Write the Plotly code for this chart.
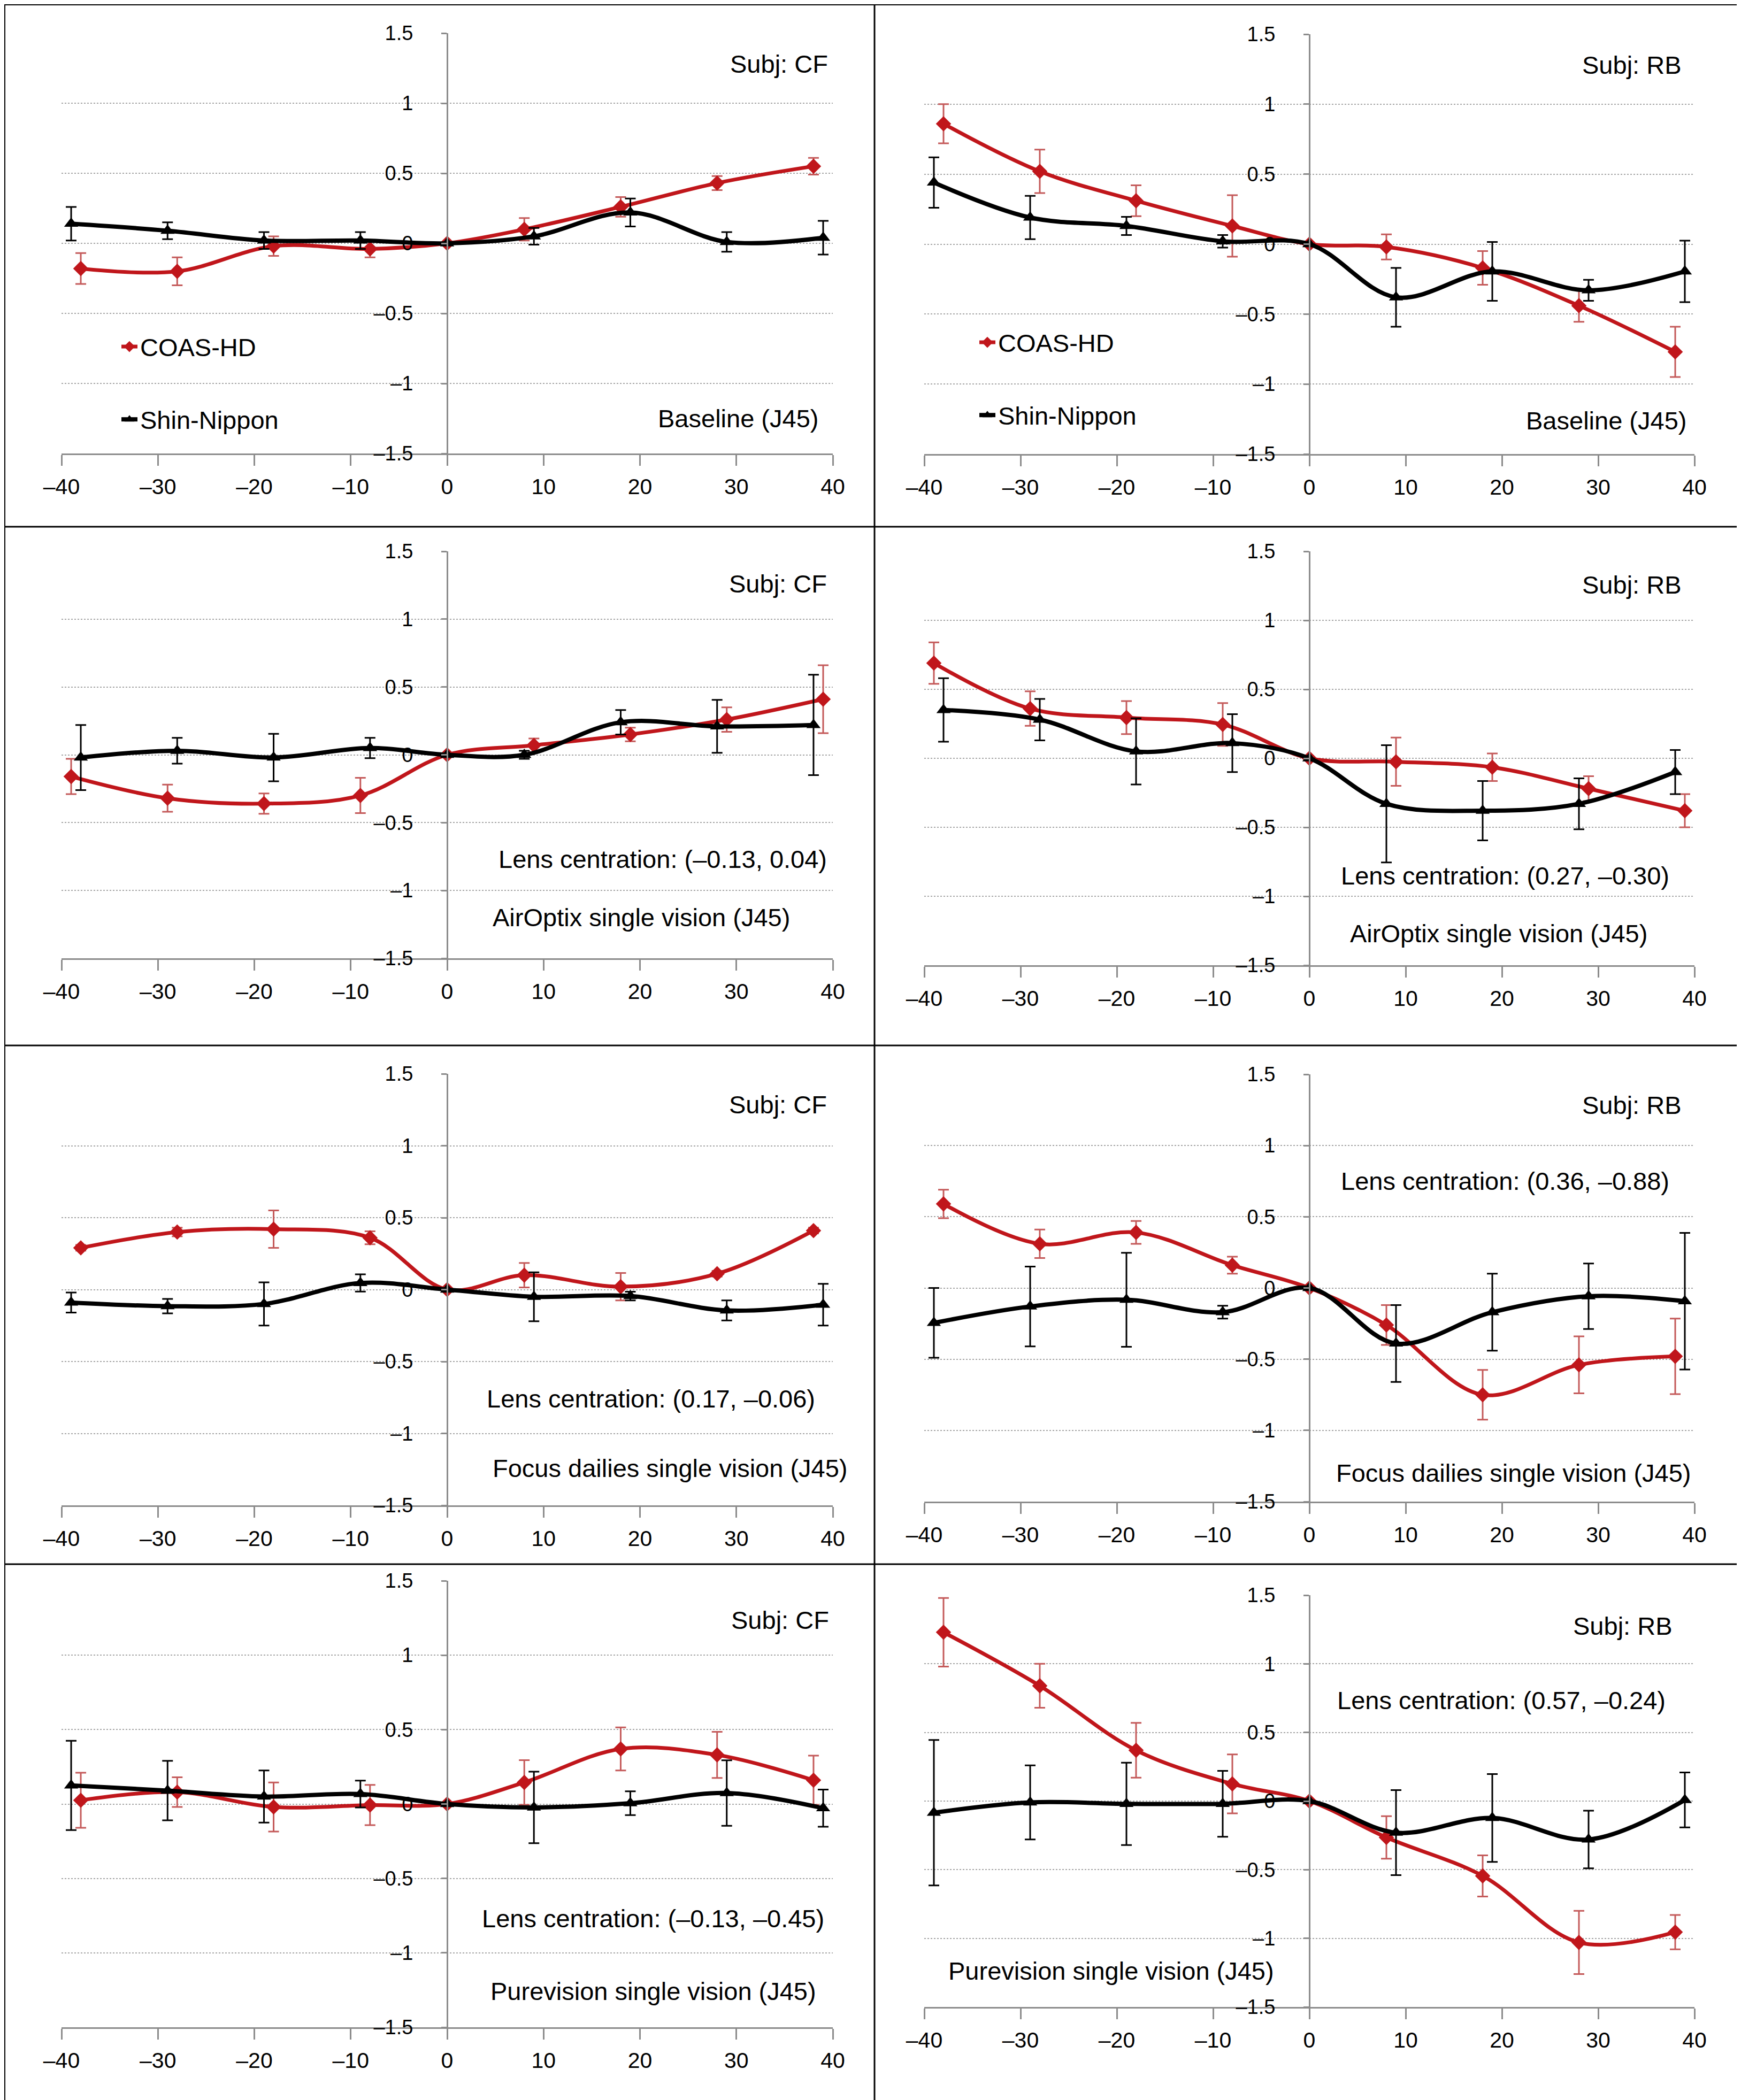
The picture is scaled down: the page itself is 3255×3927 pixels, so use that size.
import plotly.graph_objects as go

W, H = 3255, 3927

# ---------------- data ----------------
X_A = [-38, -28, -18, -8, 0, 8, 18, 28, 38]
X_B = [-39, -29, -19, -9, 0, 9, 19, 29, 39]

x_tick_vals = [-40, -30, -20, -10, 0, 10, 20, 30, 40]
x_tick_text = ["\u201340", "\u201330", "\u201320", "\u201310", "0", "10", "20", "30", "40"]
y_tick_vals = [-1.5, -1, -0.5, 0, 0.5, 1, 1.5]
y_tick_text = ["\u20131.5", "\u20131", "\u20130.5", "0", "0.5", "1", "1.5"]

series_names = ["COAS-HD", "Shin-Nippon"]

# Panel 1: Subj CF, Baseline
cf_base_coas = [-0.18, -0.20, -0.02, -0.04, 0, 0.10, 0.26, 0.43, 0.55]
cf_base_coas_err = [0.11, 0.10, 0.07, 0.06, 0, 0.08, 0.07, 0.05, 0.06]
cf_base_shin = [0.14, 0.09, 0.02, 0.02, 0, 0.05, 0.22, 0.01, 0.04]
cf_base_shin_err = [0.12, 0.06, 0.06, 0.06, 0, 0.06, 0.10, 0.07, 0.12]

# Panel 2: Subj RB, Baseline
rb_base_coas = [0.86, 0.52, 0.31, 0.13, 0, -0.02, -0.17, -0.44, -0.77]
rb_base_coas_err = [0.14, 0.155, 0.11, 0.22, 0, 0.09, 0.12, 0.115, 0.18]
rb_base_shin = [0.44, 0.19, 0.13, 0.02, 0, -0.38, -0.195, -0.33, -0.195]
rb_base_shin_err = [0.18, 0.155, 0.065, 0.045, 0, 0.21, 0.21, 0.075, 0.22]

# Panel 3: Subj CF, AirOptix
cf_air_coas = [-0.16, -0.32, -0.36, -0.30, 0, 0.07, 0.15, 0.26, 0.41]
cf_air_coas_err = [0.13, 0.10, 0.075, 0.13, 0, 0.05, 0.05, 0.09, 0.25]
cf_air_shin = [-0.02, 0.03, -0.02, 0.05, 0, 0.0, 0.24, 0.21, 0.22]
cf_air_shin_err = [0.24, 0.095, 0.175, 0.075, 0, 0.03, 0.09, 0.195, 0.37]

# Panel 4: Subj RB, AirOptix
rb_air_coas = [0.69, 0.36, 0.295, 0.245, 0, -0.025, -0.065, -0.22, -0.38]
rb_air_coas_err = [0.15, 0.125, 0.12, 0.155, 0, 0.175, 0.10, 0.09, 0.12]
rb_air_shin = [0.35, 0.28, 0.05, 0.11, 0, -0.33, -0.38, -0.33, -0.10]
rb_air_shin_err = [0.23, 0.15, 0.24, 0.21, 0, 0.425, 0.215, 0.185, 0.16]

# Panel 5: Subj CF, Focus dailies
cf_focus_coas = [0.29, 0.40, 0.42, 0.36, 0, 0.10, 0.02, 0.11, 0.41]
cf_focus_coas_err = [0.02, 0.03, 0.13, 0.045, 0, 0.085, 0.095, 0.02, 0.02]
cf_focus_shin = [-0.09, -0.115, -0.10, 0.046, 0, -0.05, -0.045, -0.145, -0.105]
cf_focus_shin_err = [0.07, 0.05, 0.15, 0.06, 0, 0.17, 0.03, 0.07, 0.145]

# Panel 6: Subj RB, Focus dailies
rb_focus_coas = [0.59, 0.31, 0.39, 0.16, 0, -0.26, -0.75, -0.54, -0.48]
rb_focus_coas_err = [0.10, 0.10, 0.08, 0.06, 0, 0.14, 0.175, 0.20, 0.265]
rb_focus_shin = [-0.245, -0.13, -0.083, -0.17, 0, -0.39, -0.17, -0.058, -0.093]
rb_focus_shin_err = [0.245, 0.28, 0.33, 0.045, 0, 0.27, 0.27, 0.23, 0.48]

# Panel 7: Subj CF, Purevision
cf_pure_coas = [0.025, 0.08, -0.02, -0.007, 0, 0.145, 0.37, 0.33, 0.16]
cf_pure_coas_err = [0.185, 0.10, 0.165, 0.135, 0, 0.15, 0.145, 0.155, 0.165]
cf_pure_shin = [0.125, 0.09, 0.05, 0.067, 0, -0.023, 0.005, 0.074, -0.028]
cf_pure_shin_err = [0.30, 0.20, 0.175, 0.09, 0, 0.24, 0.08, 0.22, 0.125]

# Panel 8: Subj RB, Purevision
rb_pure_coas = [1.23, 0.84, 0.37, 0.125, 0, -0.265, -0.545, -1.03, -0.955]
rb_pure_coas_err = [0.25, 0.16, 0.20, 0.215, 0, 0.155, 0.15, 0.23, 0.125]
rb_pure_shin = [-0.085, -0.01, -0.02, -0.02, 0, -0.23, -0.123, -0.28, 0.008]
rb_pure_shin_err = [0.53, 0.27, 0.30, 0.24, 0, 0.31, 0.32, 0.21, 0.20]

# ---------------- panel definitions ----------------
# texts: (text, x, y, xanchor, xshift_px)
panels = [
    dict(coas=(X_A, cf_base_coas, cf_base_coas_err), shin=(X_B, cf_base_shin, cf_base_shin_err),
         px=(107, 1549), py=(54, 840),
         texts=[("Subj: CF", 39.6, 1.28, "right", 0), ("Baseline (J45)", 38.6, -1.25, "right", 0)]),
    dict(coas=(X_A, rb_base_coas, rb_base_coas_err), shin=(X_B, rb_base_shin, rb_base_shin_err),
         px=(1720, 3160), py=(56, 841),
         texts=[("Subj: RB", 38.7, 1.28, "right", 0), ("Baseline (J45)", 39.3, -1.26, "right", 0)]),
    dict(coas=(X_B, cf_air_coas, cf_air_coas_err), shin=(X_A, cf_air_shin, cf_air_shin_err),
         px=(107, 1549), py=(1023, 1784),
         texts=[("Subj: CF", 39.5, 1.26, "right", 0),
                ("Lens centration: (\u20130.13, 0.04)", 39.5, -0.77, "right", 0),
                ("AirOptix single vision (J45)", 35.7, -1.20, "right", 0)]),
    dict(coas=(X_B, rb_air_coas, rb_air_coas_err), shin=(X_A, rb_air_shin, rb_air_shin_err),
         px=(1720, 3160), py=(1023, 1797),
         texts=[("Subj: RB", 38.7, 1.256, "right", 0),
                ("Lens centration: (0.27, \u20130.30)", 37.5, -0.85, "right", 0),
                ("AirOptix single vision (J45)", 35.2, -1.27, "right", 0)]),
    dict(coas=(X_A, cf_focus_coas, cf_focus_coas_err), shin=(X_B, cf_focus_shin, cf_focus_shin_err),
         px=(107, 1549), py=(2000, 2807),
         texts=[("Subj: CF", 39.5, 1.285, "right", 0),
                ("Lens centration: (0.17, \u20130.06)", 38.3, -0.76, "right", 0),
                ("Focus dailies single vision (J45)", 39.9, -1.24, "right", 32)]),
    dict(coas=(X_A, rb_focus_coas, rb_focus_coas_err), shin=(X_B, rb_focus_shin, rb_focus_shin_err),
         px=(1720, 3160), py=(2001, 2800),
         texts=[("Subj: RB", 38.7, 1.285, "right", 0),
                ("Lens centration: (0.36, \u20130.88)", 37.5, 0.75, "right", 0),
                ("Focus dailies single vision (J45)", 39.8, -1.30, "right", 0)]),
    dict(coas=(X_A, cf_pure_coas, cf_pure_coas_err), shin=(X_B, cf_pure_shin, cf_pure_shin_err),
         px=(107, 1549), py=(2948, 3783),
         texts=[("Subj: CF", 39.7, 1.236, "right", 0),
                ("Lens centration: (\u20130.13, \u20130.45)", 39.2, -0.77, "right", 0),
                ("Purevision single vision (J45)", 38.4, -1.257, "right", 0)]),
    dict(coas=(X_A, rb_pure_coas, rb_pure_coas_err), shin=(X_B, rb_pure_shin, rb_pure_shin_err),
         px=(1720, 3160), py=(2975, 3745),
         texts=[("Subj: RB", 37.8, 1.276, "right", 0),
                ("Lens centration: (0.57, \u20130.24)", 37.1, 0.736, "right", 0),
                ("Purevision single vision (J45)", -37.6, -1.236, "left", 0)]),
]

RED = "#c0161b"
RED_ERR = "#c45a5a"
BLACK = "#000000"
AXIS_COL = "#8c8c8c"
GRID_COL = "#a6a6a6"
FONT = "Liberation Sans, Arial, sans-serif"

fig = go.Figure()
layout = dict(
    width=W, height=H, margin=dict(l=0, r=0, t=0, b=0, pad=0, autoexpand=False),
    paper_bgcolor="white", plot_bgcolor="white",
    font=dict(family=FONT, color="black"),
    showlegend=True,
)
annotations = []

for i, p in enumerate(panels, start=1):
    sfx = "" if i == 1 else str(i)
    xref, yref = "x" + sfx, "y" + sfx
    legend_name = None
    if i == 1:
        legend_name = "legend"
    elif i == 2:
        legend_name = "legend2"

    for key, name, col, ecol, sym, msize, lw in [
        ("coas", series_names[0], RED, RED_ERR, "diamond", 22, 7),
        ("shin", series_names[1], BLACK, BLACK, "triangle-up", 23, 8),
    ]:
        xs, ys, es = p[key]
        tr = dict(
            x=xs, y=ys, name=name, xaxis=xref, yaxis=yref,
            mode="lines+markers",
            line=dict(color=col, width=lw, shape="spline", smoothing=1.0),
            marker=dict(symbol=sym, size=msize, color=col),
            error_y=dict(type="data", array=es, visible=True, color=ecol,
                         thickness=3, width=10),
            cliponaxis=False,
            legendgroup=f"p{i}{key}",
            showlegend=legend_name is not None,
        )
        if legend_name is not None:
            tr["legend"] = legend_name
        fig.add_trace(go.Scatter(**tr))

    x0, x1 = p["px"][0] / W, p["px"][1] / W
    y0, y1 = 1 - p["py"][1] / H, 1 - p["py"][0] / H
    layout["xaxis" + sfx] = dict(
        domain=[x0, x1], range=[-40, 40], anchor=yref,
        tickmode="array", tickvals=x_tick_vals, ticktext=x_tick_text,
        showline=True, linecolor=AXIS_COL, linewidth=3,
        ticks="outside", ticklen=20, tickwidth=3, tickcolor=AXIS_COL,
        showgrid=False, zeroline=False, automargin=False,
        tickfont=dict(size=41, family=FONT, color="black"),
        ticklabelstandoff=4, fixedrange=True,
    )
    layout["yaxis" + sfx] = dict(
        domain=[y0, y1], range=[-1.5, 1.5], anchor="free", position=(x0 + x1) / 2,
        tickmode="array", tickvals=y_tick_vals, ticktext=y_tick_text,
        showline=True, linecolor=AXIS_COL, linewidth=3,
        ticks="outside", ticklen=10, tickwidth=3, tickcolor=AXIS_COL,
        showgrid=True, gridcolor=GRID_COL, gridwidth=2, griddash="dot",
        zeroline=False, automargin=False,
        tickfont=dict(size=38, family=FONT, color="black"),
        ticklabelstandoff=45, fixedrange=True,
    )
    for txt, tx, ty, anc, xs_px in p["texts"]:
        annotations.append(dict(
            text=txt, x=tx, y=ty, xref=xref, yref=yref, showarrow=False,
            xanchor=anc, yanchor="middle", xshift=xs_px,
            font=dict(size=47, family=FONT, color="black"),
        ))

layout["annotations"] = annotations

legend_common = dict(
    xanchor="left", yanchor="top", bgcolor="rgba(0,0,0,0)",
    font=dict(size=47, family=FONT, color="black"),
    tracegroupgap=72, traceorder="grouped", itemclick=False, itemdoubleclick=False,
)
layout["legend"] = dict(x=214 / W, y=1 - 603 / H, **legend_common)
layout["legend2"] = dict(x=1818 / W, y=1 - 595 / H, **legend_common)

# panel frames
shapes = [dict(type="rect", xref="paper", yref="paper", x0=0, x1=1, y0=0, y1=1,
               line=dict(color="black", width=4))]
shapes.append(dict(type="line", xref="paper", yref="paper", x0=1627 / W, x1=1627 / W,
                   y0=0, y1=1, line=dict(color="black", width=3)))
for yy in [977, 1947, 2917]:
    shapes.append(dict(type="line", xref="paper", yref="paper", x0=0, x1=1,
                       y0=1 - yy / H, y1=1 - yy / H, line=dict(color="black", width=3)))
layout["shapes"] = shapes

fig.update_layout(**layout)
fig.write_html("out.html")
